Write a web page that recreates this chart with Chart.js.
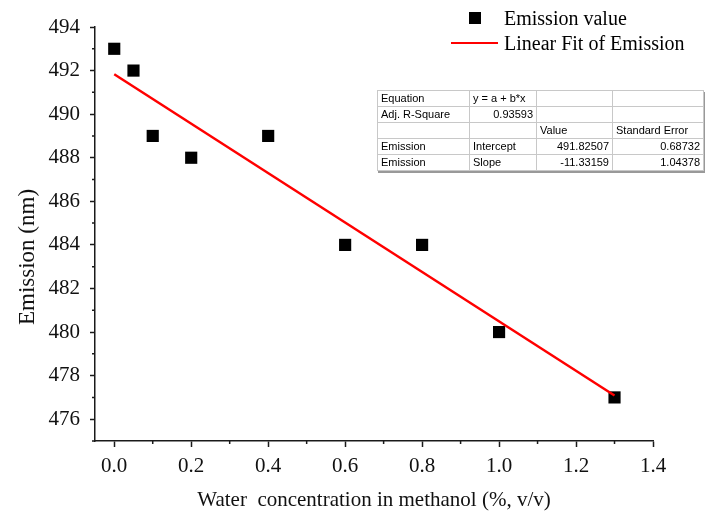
<!DOCTYPE html>
<html><head><meta charset="utf-8">
<script src="https://cdn.jsdelivr.net/npm/chart.js@4/dist/chart.umd.min.js"></script>
<style>
html,body{margin:0;padding:0;background:#fff;}
#wrap{position:relative;width:705px;height:522px;overflow:hidden;}
#c{position:absolute;left:0;top:0;}
.lg{position:absolute;font-family:'Liberation Serif','Times New Roman',serif;font-size:20px;color:#000;line-height:22px;white-space:nowrap;}
#sq{position:absolute;left:469px;top:12px;width:12px;height:12px;background:#000;}
#ln{position:absolute;left:451px;top:41.5px;width:47px;height:2.5px;background:#ff0000;}
#fit{position:absolute;left:377px;top:90px;border-collapse:collapse;font-family:'Liberation Sans',Arial,sans-serif;font-size:11px;color:#000;border:1px solid #555;box-shadow:1px 2px 0 #999;background:#fff;table-layout:fixed;}
#fit td{border:1px solid #c8c8c8;height:15px;padding:0 3px;line-height:15px;white-space:nowrap;overflow:hidden;}
#fit td.r{text-align:right;}
</style></head><body>
<div id="wrap">
<canvas id="c" width="705" height="522"></canvas>
<div id="sq"></div><div class="lg" id="l1" style="left:504px;top:7px;"></div>
<div id="ln"></div><div class="lg" id="l2" style="left:504px;top:32px;"></div>
<table id="fit"><colgroup><col style="width:92px"><col style="width:67px"><col style="width:76px"><col style="width:91px"></colgroup><tbody id="fitBody"></tbody></table>
</div>
<script>
// ---- data ----
const waterConc = [0, 0.05, 0.1, 0.2, 0.4, 0.6, 0.8, 1.0, 1.3];
const emission = [493, 492, 489, 488, 489, 484, 484, 480, 477];
const fitX = [0, 1.3];
const fitY = [491.83, 477.09];
const xTicks = [0, 0.2, 0.4, 0.6, 0.8, 1.0, 1.2, 1.4];
const xMinorTicks = [0.1, 0.3, 0.5, 0.7, 0.9, 1.1, 1.3];
const yTicks = [476, 478, 480, 482, 484, 486, 488, 490, 492, 494];
const yMinorTicks = [475, 477, 479, 481, 483, 485, 487, 489, 491, 493];
const seriesNames = ['Emission value', 'Linear Fit of Emission'];
const xTitle = 'Water  concentration in methanol (%, v/v)';
const yTitle = 'Emission (nm)';
const tableRow1 = ['Equation', 'y = a + b*x', '', ''];
const tableRow2 = ['Adj. R-Square', '0.93593', '', ''];
const tableRow3 = ['', '', 'Value', 'Standard Error'];
const tableRow4 = ['Emission', 'Intercept', '491.82507', '0.68732'];
const tableRow5 = ['Emission', 'Slope', '-11.33159', '1.04378'];

document.getElementById('l1').textContent = seriesNames[0];
document.getElementById('l2').textContent = seriesNames[1];
const rightAligned = [[], [1], [], [2, 3], [2, 3]];
const tb = document.getElementById('fitBody');
[tableRow1, tableRow2, tableRow3, tableRow4, tableRow5].forEach((row, i) => {
  const tr = document.createElement('tr');
  row.forEach((t, j) => {
    const td = document.createElement('td');
    td.textContent = t;
    if (rightAligned[i].includes(j)) td.className = 'r';
    tr.appendChild(td);
  });
  tb.appendChild(tr);
});

const FONT = "'Liberation Serif','Times New Roman',serif";
const AX = '#1a1a1a';

const minorTicks = {
  id: 'minorTicks',
  afterDraw(chart) {
    const {ctx, scales: {x, y}} = chart;
    ctx.save();
    ctx.strokeStyle = AX;
    ctx.lineWidth = 1.5;
    ctx.beginPath();
    yMinorTicks.forEach(v => { const p = y.getPixelForValue(v); ctx.moveTo(y.right, p); ctx.lineTo(y.right - 3, p); });
    xMinorTicks.forEach(v => { const p = x.getPixelForValue(v); ctx.moveTo(p, x.top); ctx.lineTo(p, x.top + 3); });
    ctx.stroke();
    ctx.restore();
  }
};

new Chart(document.getElementById('c'), {
  type: 'scatter',
  data: {
    datasets: [
      {
        label: seriesNames[0],
        data: waterConc.map((v, i) => ({x: v, y: emission[i]})),
        pointStyle: 'rect',
        pointRadius: 8.6,
        backgroundColor: '#000',
        borderWidth: 0,
        order: 2
      },
      {
        type: 'line',
        label: seriesNames[1],
        data: fitX.map((v, i) => ({x: v, y: fitY[i]})),
        borderColor: '#ff0000',
        borderWidth: 2.5,
        pointRadius: 0,
        fill: false,
        order: 1
      }
    ]
  },
  options: {
    responsive: false,
    animation: false,
    devicePixelRatio: 1,
    events: [],
    layout: {padding: {top: 27, right: 52, bottom: 0, left: 0}},
    plugins: {legend: {display: false}, tooltip: {enabled: false}},
    scales: {
      x: {
        type: 'linear', min: -0.05, max: 1.4,
        afterBuildTicks: s => { s.ticks = xTicks.map(v => ({value: v})); },
        afterFit: s => { s.height = 81; },
        ticks: {callback: v => Number(v).toFixed(1), font: {family: FONT, size: 21}, color: '#111', padding: 7, maxRotation: 0, autoSkip: false},
        grid: {drawOnChartArea: false, drawTicks: true, tickLength: 6, tickWidth: 1.5, tickColor: AX},
        border: {display: true, color: AX, width: 1.5},
        title: {display: true, text: xTitle, font: {family: FONT, size: 21}, color: '#111', padding: {top: 9, bottom: 9}}
      },
      y: {
        type: 'linear', min: 475, max: 494,
        afterBuildTicks: s => { s.ticks = yTicks.map(v => ({value: v})); },
        afterFit: s => { s.width = 95; },
        ticks: {font: {family: FONT, size: 21}, color: '#111', padding: 10, autoSkip: false},
        grid: {drawOnChartArea: false, drawTicks: true, tickLength: 5, tickWidth: 1.5, tickColor: AX},
        border: {display: true, color: AX, width: 1.5},
        title: {display: true, text: yTitle + '        ', font: {family: FONT, size: 23}, color: '#111', padding: {top: 14, bottom: 14}}
      }
    }
  },
  plugins: [minorTicks]
});
</script>
</body></html>
